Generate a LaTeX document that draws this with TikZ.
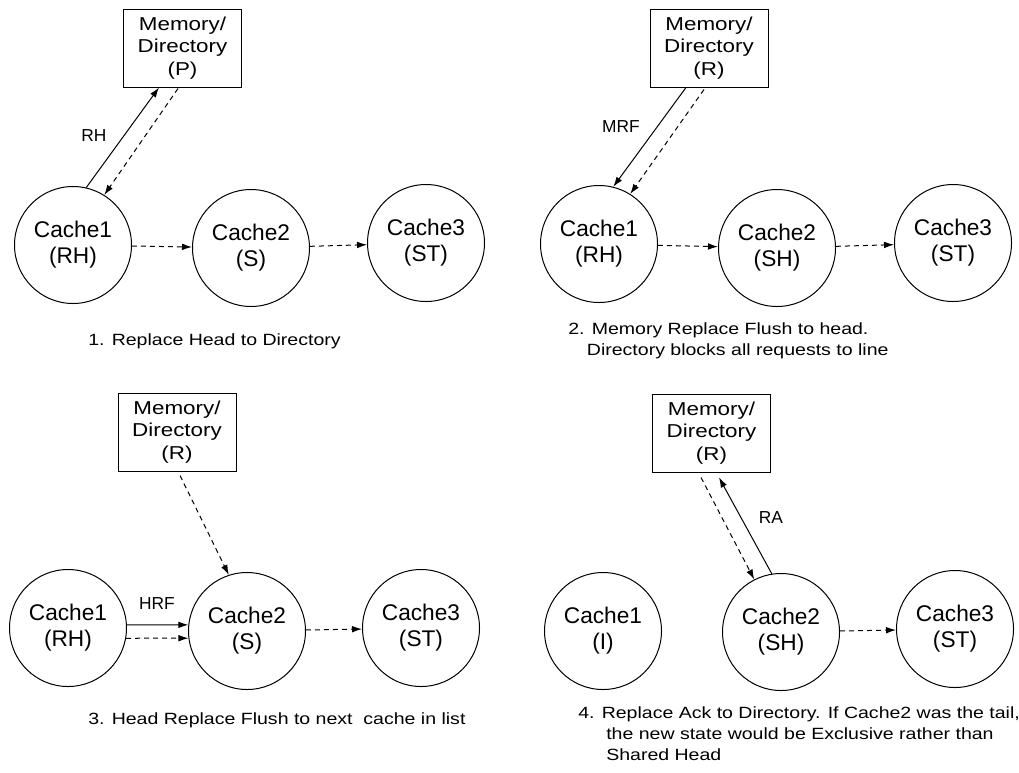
\documentclass[tikz,border=0pt]{standalone}
\usepackage{fontspec}
\setmainfont{Liberation Sans}
\newfontfamily\widesans[FakeStretch=1.2]{Liberation Sans}
\usetikzlibrary{arrows.meta,calc}

\begin{document}
\begin{tikzpicture}[x=0.75pt,y=-0.75pt,
  cache/.style={circle,draw,line width=0.75pt,minimum size=87.75pt,inner sep=0pt,
    align=center,font=\fontsize{17}{19.5}\selectfont},
  memdir/.style={rectangle,draw,line width=0.75pt,minimum width=88.5pt,minimum height=58.5pt,
    inner sep=0pt,align=center,font=\widesans\fontsize{14}{17}\selectfont},
  msg/.style={line width=0.75pt,-{Latex[length=7.5pt,width=5pt]}},
  ptr/.style={msg,dash pattern=on 3.75pt off 3pt},
  lbl/.style={font=\fontsize{13}{15}\selectfont,inner sep=0pt},
  caption/.style={anchor=base west,inner sep=0pt,align=left,
    font=\widesans\fontsize{12.2}{15.6}\selectfont}
]
\useasboundingbox (0,0) rectangle (1019,772);

% ---- step 1: replace head to directory
\node[memdir] (m1) at (182.5,48) {Memory/\\Directory\\(P)};
\node[cache] (a1) at (73,245) {Cache1\\(RH)};
\node[cache] (a2) at (251,248) {Cache2\\(S)};
\node[cache] (a3) at (426,243) {Cache3\\(ST)};
\draw[msg] (a1.77) -- ($(m1.south)+(-23.5,0)$);
\draw[ptr] ($(m1.south)+(-4.5,1)$) -- (a1.58);
\node[lbl] (l1) at (94,136) {RH};
\draw[ptr] (a1) -- (a2);
\draw[ptr] (a2) -- (a3);
\node[caption] (cap1) at (88,345) {1. Replace Head to Directory};

% ---- step 2: memory replace flush
\node[memdir] (m2) at (709,48) {Memory/\\Directory\\(R)};
\node[cache] (b1) at (599,244) {Cache1\\(RH)};
\node[cache] (b2) at (777,248) {Cache2\\(SH)};
\node[cache] (b3) at (953,243) {Cache3\\(ST)};
\draw[msg] ($(m2.south)+(-23,0)$) -- (b1.76);
\draw[ptr] ($(m2.south)+(-5,2)$) -- (b1.58);
\node[lbl] (l2) at (621,127) {MRF};
\draw[ptr] (b1) -- (b2);
\draw[ptr] (b2) -- (b3);
% multi-line captions are placed by the baseline of their last line
\node[caption] (cap2) at (568,355) {2. Memory Replace Flush to head.\\\hspace*{14pt}Directory blocks all requests to line};

% ---- step 3: head replace flush
\node[memdir] (m3) at (177,432) {Memory/\\Directory\\(R)};
\node[cache] (d1) at (68,628) {Cache1\\(RH)};
\node[cache] (d2) at (247,631) {Cache2\\(S)};
\node[cache] (d3) at (421,628) {Cache3\\(ST)};
\draw[ptr] ($(m3.south)+(3,4)$) -- (d2.108);
\draw[msg] (d1.3) -- (d2.174);
\draw[ptr] (d1.-10) -- (d2.-173);
\node[lbl] (l3) at (157,604) {HRF};
\draw[ptr] (d2) -- (d3);
\node[caption] (cap3) at (88,724) {3. Head Replace Flush to next\ \ cache in list};

% ---- step 4: replace ack
\node[memdir] (m4) at (711.5,433) {Memory/\\Directory\\(R)};
\node[cache] (e1) at (603,631) {Cache1\\(I)};
\node[cache] (e2) at (781,632) {Cache2\\(SH)};
\node[cache] (e3) at (955,629) {Cache3\\(ST)};
\draw[ptr] ($(m4.south)+(-10.5,5)$) -- (e2.117);
\draw[msg] (e2.99) -- ($(m4.south)+(7.5,5)$);
\node[lbl] (l4) at (771,518) {RA};
\draw[ptr] (e2) -- (e3);
\node[caption] (cap4) at (578,760) {4. Replace Ack to Directory. If Cache2 was the tail,\\\hspace*{21pt}the new state would be Exclusive rather than\\\hspace*{21pt}Shared Head};
\end{tikzpicture}
\end{document}
